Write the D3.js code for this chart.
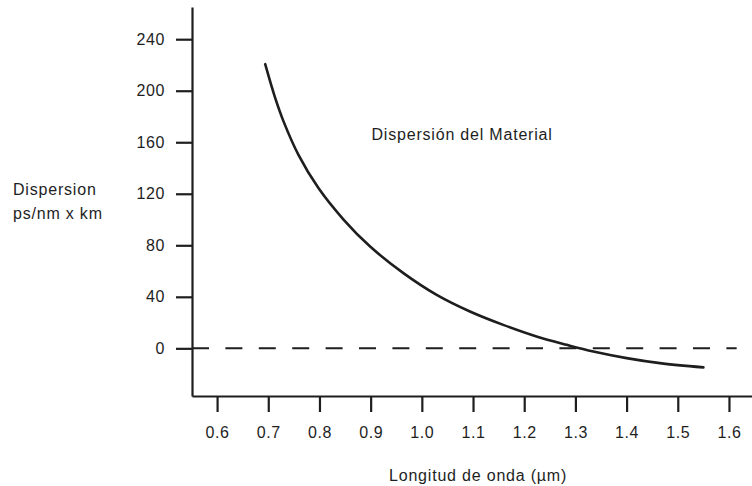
<!DOCTYPE html>
<html>
<head>
<meta charset="utf-8">
<script src="https://cdn.jsdelivr.net/npm/d3@7"></script>
<style>
  html, body { margin: 0; padding: 0; background: #ffffff; }
  svg { display: block; }
  text { font-family: "Liberation Sans", Arial, Helvetica, sans-serif; fill: #1e1e1e; }
</style>
</head>
<body>
<div id="chart"></div>
<script>
// ---- Data ----
const wavelength = [0.694, 0.713, 0.730, 0.759, 0.798, 0.847, 0.899, 0.964, 1.029, 1.094, 1.159, 1.224, 1.283, 1.335, 1.400, 1.465, 1.550];
const dispersion = [220.6, 195.0, 176.0, 150.2, 124.4, 100.0, 79.0, 58.4, 41.5, 28.6, 18.2, 9.2, 2.7, -2.5, -7.6, -11.5, -14.8];
const xTicks = [0.6, 0.7, 0.8, 0.9, 1.0, 1.1, 1.2, 1.3, 1.4, 1.5, 1.6];
const xTickLabels = ["0.6", "0.7", "0.8", "0.9", "1.0", "1.1", "1.2", "1.3", "1.4", "1.5", "1.6"];
const yTicks = [0, 40, 80, 120, 160, 200, 240];
const yTickLabels = ["0", "40", "80", "120", "160", "200", "240"];
const zeroLineEnd = 1.615;

const W = 752, H = 486;
const svg = d3.select("#chart").append("svg").attr("width", W).attr("height", H);

const x = d3.scaleLinear().domain([0.551, 1.645]).range([192, 752]);
const y = d3.scaleLinear().domain([-37, 265]).range([396, 7]);

const ink = "#1e1e1e";

// zero dashed line
svg.append("line")
  .attr("x1", x(x.domain()[0])).attr("x2", x(zeroLineEnd))
  .attr("y1", y(0)).attr("y2", y(0))
  .attr("stroke", ink).attr("stroke-width", 2)
  .attr("stroke-dasharray", "17,16.4");

// Y axis
const yAxis = d3.axisLeft(y)
  .tickValues(yTicks)
  .tickFormat((d, i) => yTickLabels[i])
  .tickSizeInner(16).tickSizeOuter(0).tickPadding(11);
const gy = svg.append("g").attr("transform", `translate(${x(x.domain()[0])},0)`).call(yAxis);

// X axis
const xAxis = d3.axisBottom(x)
  .tickValues(xTicks)
  .tickFormat((d, i) => xTickLabels[i])
  .tickSizeInner(16).tickSizeOuter(0).tickPadding(15);
const gx = svg.append("g").attr("transform", `translate(0,${y(y.domain()[0])})`).call(xAxis);

[gx, gy].forEach(g => {
  g.select(".domain").attr("stroke", ink).attr("stroke-width", 2.2);
  g.selectAll(".tick line").attr("stroke", ink).attr("stroke-width", 2.2);
  g.selectAll(".tick text")
    .attr("fill", ink)
    .style("font-size", "16px")
    .style("letter-spacing", "0.6px")
    .style("font-family", "'Liberation Sans', Arial, sans-serif");
});

// Curve
const line = d3.line()
  .x((d, i) => x(wavelength[i]))
  .y(d => y(d))
  .curve(d3.curveCatmullRom.alpha(0.5));

svg.append("path")
  .datum(dispersion)
  .attr("d", line)
  .attr("fill", "none")
  .attr("stroke", ink)
  .attr("stroke-width", 2.6)
  .attr("stroke-linecap", "round");

// Labels
const labelStyle = sel => sel.style("font-size", "16px").style("letter-spacing", "0.8px");

svg.append("text").attr("x", 13).attr("y", 194.5).text("Dispersion").call(labelStyle);
svg.append("text").attr("x", 13).attr("y", 218.5).text("ps/nm x km").call(labelStyle);

svg.append("text").attr("x", 371.5).attr("y", 140).text("Dispersión del Material").call(labelStyle);

svg.append("text").attr("x", 389).attr("y", 481).text("Longitud de onda (\u00b5m)").call(labelStyle);
</script>
</body>
</html>
